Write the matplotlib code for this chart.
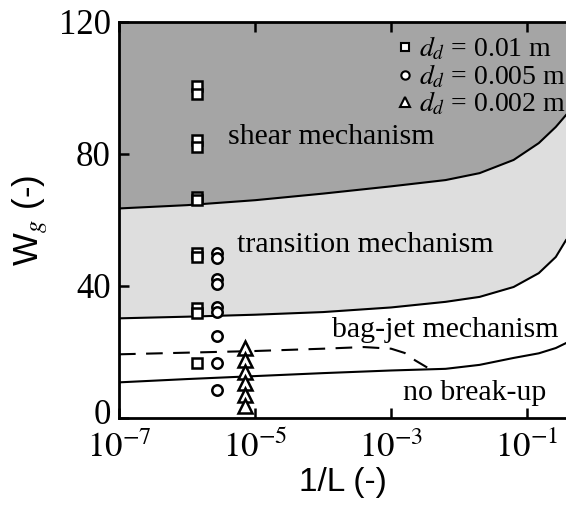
import numpy as np
import matplotlib.pyplot as plt
from matplotlib.ticker import FixedLocator, FuncFormatter
from matplotlib.transforms import ScaledTranslation

plt.rcParams['font.family'] = ['Liberation Serif', 'DejaVu Serif']
plt.rcParams['mathtext.fontset'] = 'stix'

# regime boundaries, Wg against 1/L
bound_x = [1e-7, 1e-6, 1e-5, 1e-4, 1e-3, 10**-2.2, 10**-1.7, 10**-1.2,
           10**-0.83, 10**-0.58, 10**-0.43]
shear_lower = [63.5, 64.5, 66.0, 68.0, 70.2, 72.1, 74.2, 78.2, 83.3, 88.2, 91.8]
trans_lower = [30.2, 30.7, 31.3, 32.1, 33.5, 35.2, 36.7, 39.7, 43.9, 48.8, 53.9]
breakup_lower = [10.8, 11.8, 12.7, 13.6, 14.4, 14.9, 16.1, 18.2, 19.6, 21.2, 22.7]

dash_x = [1e-7, 1e-6, 1e-5, 1e-4, 10**-3.4, 1e-3, 10**-2.8, 10**-2.65, 10**-2.47]
dash_w = [19.3, 19.8, 20.3, 21.0, 21.5, 21.0, 19.7, 17.5, 15.3]

# experiments
sq_x = 1.4e-6
sq_w = [100.5, 98.2, 84.2, 82.0, 67.0, 66.0, 50.0, 48.9, 33.3, 31.8, 16.7]
ci_x = 2.8e-6
ci_w = [50.0, 48.5, 42.2, 40.5, 33.5, 32.0, 25.0, 16.6, 8.4]
tr_x = 7.0e-6
tr_w = [21.2, 17.6, 13.9, 10.6, 7.0, 3.6]

fig = plt.figure(figsize=(5.66, 5.09), dpi=100)
ax = fig.add_axes([119 / 566, 91 / 509, 447 / 566, 396 / 509])

ax.fill_between(bound_x, shear_lower, 120, color='#a5a5a5', lw=0)
ax.fill_between(bound_x, trans_lower, shear_lower, color='#dedede', lw=0)
for w in (shear_lower, trans_lower, breakup_lower):
    ax.plot(bound_x, w, color='black', lw=1.5)
ax.plot(dash_x, dash_w, color='black', lw=1.5, dashes=(8, 5))

mk = dict(linestyle='none', mfc='white', mec='black', mew=1.8)
ax.plot([sq_x] * len(sq_w), sq_w, marker='s', ms=7, **mk)
ax.plot([ci_x] * len(ci_w), ci_w, marker='o', ms=7.5, **mk)
ax.plot([tr_x] * len(tr_w), tr_w, marker='^', ms=10, **mk)

# legend entries
h1, = ax.plot([], [], marker='s', ms=6, mew=1.5, linestyle='none', mfc='white', mec='black')
h2, = ax.plot([], [], marker='o', ms=6, mew=1.5, linestyle='none', mfc='white', mec='black')
h3, = ax.plot([], [], marker='^', ms=7, mew=1.5, linestyle='none', mfc='white', mec='black')
ax.legend([h1, h2, h3],
          [r'$d_d$ = 0.01 m', r'$d_d$ = 0.005 m', r'$d_d$ = 0.002 m'],
          loc='upper right', bbox_to_anchor=(1.025, 0.995), frameon=False,
          fontsize=20, handlelength=0.5, handletextpad=0.25, labelspacing=0.0,
          borderaxespad=0.1, borderpad=0.3)

ax.text(1.3e-4, 85, 'shear mechanism', fontsize=21.5, ha='center', va='center')
ax.text(4.2e-4, 52.4, 'transition mechanism', fontsize=21.5, ha='center', va='center')
ax.text(6.3e-3, 26.7, 'bag-jet mechanism', fontsize=21.5, ha='center', va='center')
ax.text(1.66e-2, 7.6, 'no break-up', fontsize=21.5, ha='center', va='center')

ax.set_xscale('log')
ax.set_xlim(1e-7, 10**-0.43)
ax.set_ylim(0, 120)
ax.xaxis.set_major_locator(FixedLocator([1e-7, 1e-5, 1e-3, 1e-1]))
ax.xaxis.set_minor_locator(FixedLocator([]))
ax.xaxis.set_major_formatter(FuncFormatter(lambda v, p: r'$10^{%d}$' % round(np.log10(v))))
ax.set_yticks([0, 40, 80, 120])
ax.tick_params(direction='in', length=7, width=1.8, labelsize=25, top=True, pad=6)
ax.tick_params(axis='x', pad=10)

# lift the "0" label so it clears the x tick labels
zero_lbl = ax.yaxis.get_major_ticks()[0].label1
zero_lbl.set_transform(zero_lbl.get_transform() + ScaledTranslation(0, 6 / 100, fig.dpi_scale_trans))

for s in ('left', 'bottom', 'top'):
    ax.spines[s].set_linewidth(2)
ax.spines['right'].set_visible(False)

ax.set_xlabel('1/L (-)', fontsize=24, family='Liberation Sans', labelpad=1)
ax.set_ylabel(r'W$_{g}$ (-)', fontsize=25, family='Liberation Sans', labelpad=6)

fig.savefig('out.png', dpi=100)
